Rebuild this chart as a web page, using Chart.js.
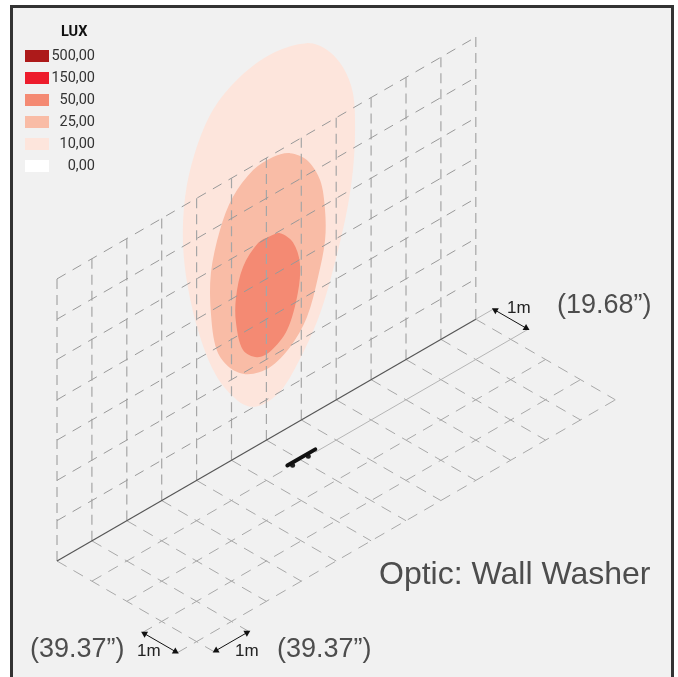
<!DOCTYPE html>
<html>
<head>
<meta charset="utf-8">
<title>Optic: Wall Washer</title>
<script src="https://cdn.jsdelivr.net/npm/chart.js@4"></script>
<style>
  html, body { margin: 0; padding: 0; background: #fff; }
  #page { position: relative; width: 678px; height: 677px; overflow: hidden; }
  #frame { position: absolute; left: 10px; top: 5px; width: 658px; height: 720px; border: 3px solid #333; background: #f1f1f1; }
  #chart { position: absolute; left: 0; top: 0; }
  .note { position: absolute; white-space: nowrap; font-family: "Liberation Sans", sans-serif; color: #4d4d4d; line-height: 1; }
  .swatch { position: absolute; left: 25px; width: 24px; height: 12px; }
  .lux { position: absolute; right: 583px; font: 14.5px Roboto, sans-serif; color: #333; line-height: 1; }
  #luxTitle { position: absolute; left: 61px; top: 25px; font: bold 14.5px Roboto, sans-serif; color: #111; line-height: 1; }
</style>
</head>
<body>
<div id="page">
  <div id="frame"></div>
  <canvas id="chart" width="678" height="677"></canvas>
  <div id="luxTitle">LUX</div>
  <div id="legend"></div>
  <div class="note" style="left:379px;top:557px;font-size:32px">Optic: Wall Washer</div>
  <div class="note" style="left:557px;top:291px;font-size:27px">(19.68”)</div>
  <div class="note" style="left:30px;top:635px;font-size:27px">(39.37”)</div>
  <div class="note" style="left:277px;top:635px;font-size:27px">(39.37”)</div>
  <div class="note" style="left:507px;top:299px;font-size:17px;color:#222">1m</div>
  <div class="note" style="left:137px;top:642px;font-size:17px;color:#222">1m</div>
  <div class="note" style="left:235px;top:642px;font-size:17px;color:#222">1m</div>
</div>
<script>
const LUX_LABELS = ["500,00", "150,00", "50,00", "25,00", "10,00", "0,00"];
const LUX_COLORS = ["#ad1a1a", "#ed1c2c", "#f48a73", "#f9bca6", "#fde5dc", "#ffffff"];

// grid lines, in metres-ish cells
const WALL_COLUMNS = [0, 1, 2, 3, 4, 5, 6, 7, 8, 9, 10, 11, 12];
const WALL_ROWS = [1, 2, 3, 4, 5, 6, 7];
const FLOOR_ROWS = [2, 3, 4];

// lux contours on the wall: along the wall (u) and up the wall (v)
const OUTER_U = [7.16, 7.74, 8.19, 8.48, 8.54, 8.48, 8.31, 7.96, 7.54, 7.05, 6.48, 6.02, 5.59, 5.16, 4.58, 4.10, 3.75, 3.61, 3.67, 3.95, 4.47, 5.24, 6.19];
const OUTER_V = [9.27, 8.81, 8.16, 7.37, 6.42, 5.46, 4.55, 3.41, 2.38, 1.64, 1.05, 0.93, 1.03, 1.41, 2.28, 3.51, 4.92, 6.08, 7.20, 8.15, 8.96, 9.39, 9.51];
const MIDDLE_U = [6.68, 7.16, 7.54, 7.68, 7.68, 7.48, 7.16, 6.68, 6.10, 5.47, 4.96, 4.58, 4.41, 4.41, 4.67, 5.04, 5.62, 6.19];
const MIDDLE_V = [6.78, 6.37, 5.68, 4.87, 4.12, 3.31, 2.47, 1.97, 1.76, 1.90, 2.31, 2.94, 3.95, 4.94, 5.88, 6.51, 6.89, 6.93];
const INNER_U = [6.39, 6.76, 6.96, 6.90, 6.59, 6.10, 5.73, 5.33, 5.13, 5.13, 5.33, 5.76, 6.10];
const INNER_V = [4.94, 4.53, 3.91, 3.20, 2.43, 2.14, 2.19, 2.57, 3.34, 3.98, 4.63, 5.01, 5.01];

const FLOOR_END = 4.5;
const TICK = 0.55;
const FIXTURE_U = [5.6, 6.4];

const WALL_V_STYLE = { borderColor: "#a6a6a6", borderWidth: 1.2, borderDash: [10, 6] };
const WALL_H_STYLE = { borderColor: "#999999", borderWidth: 1, borderDash: [10, 8] };
const FLOOR_STYLE = { borderColor: "#a8a8a8", borderWidth: 1, borderDash: [11, 8] };

// isometric projection onto the chart's x/y scales
const wallPt = (u, v) => ({ x: u, y: v + u / 2 });
const floorPt = (u, d) => ({ x: u + d, y: (u - d) / 2 });

function line(points, style) {
  return { type: "scatter", data: points, showLine: true, pointRadius: 0, fill: false, tension: 0, ...style };
}

function contour(us, vs, color) {
  const pts = us.map((u, i) => wallPt(u, vs[i]));
  const n = pts.length;
  return {
    type: "scatter",
    // overlap the ends by a point so the curve closes without a corner
    data: [pts[n - 1], ...pts, pts[0], pts[1]],
    showLine: true,
    pointRadius: 0,
    borderWidth: 0,
    borderColor: color,
    backgroundColor: color,
    fill: "shape",
    tension: 0.33
  };
}

// clockwise from up, measured on screen
function angleOf(from, to) {
  const dx = (to.x - from.x) * 34.9;
  const dy = (to.y - from.y) * 40.3;
  return Math.atan2(dx, dy) * 180 / Math.PI;
}

function arrow(from, to) {
  return {
    type: "scatter",
    data: [from, to],
    showLine: true,
    borderColor: "#111",
    borderWidth: 1,
    backgroundColor: "#111",
    pointStyle: "triangle",
    pointRadius: 4,
    pointBorderWidth: 0,
    pointRotation: [angleOf(to, from), angleOf(from, to)]
  };
}

const datasets = [];

// fixture
const fixtureLift = 0.07;
datasets.push(line(FIXTURE_U.map(u => {
  const p = floorPt(u, 1);
  return { x: p.x, y: p.y + fixtureLift };
}), { borderColor: "#111", borderWidth: 4, borderCapStyle: "round" }));
datasets.push({
  type: "scatter",
  data: [floorPt(5.75, 1), floorPt(6.2, 1)],
  pointRadius: 2.5,
  backgroundColor: "#222",
  borderWidth: 0
});

// dimension arrows
datasets.push(arrow(floorPt(-TICK, 3.06), floorPt(-TICK, 3.94)));
datasets.push(arrow(floorPt(0.06, FLOOR_END), floorPt(0.94, FLOOR_END)));
datasets.push(arrow(floorPt(12.5, 0.06), floorPt(12.5, 0.94)));

// wall base and the solid part of the first floor row
datasets.push(line([wallPt(0, 0), wallPt(12, 0)], { borderColor: "#555", borderWidth: 1.2 }));
datasets.push(line([floorPt(12, 0), floorPt(12.5, 0)], { borderColor: "#b5b5b5", borderWidth: 1 }));
datasets.push(line([floorPt(FIXTURE_U[1], 1), floorPt(12.5, 1)], { borderColor: "#b5b5b5", borderWidth: 1 }));
datasets.push(line([floorPt(0, 1), floorPt(FIXTURE_U[0], 1)], FLOOR_STYLE));

// floor
FLOOR_ROWS.forEach(d => {
  const start = d >= 3 ? -TICK : 0;
  datasets.push(line([floorPt(start, d), floorPt(12, d)], FLOOR_STYLE));
});
WALL_COLUMNS.forEach(u => {
  const end = u <= 1 ? FLOOR_END : 4;
  datasets.push(line([floorPt(u, 0), floorPt(u, end)], FLOOR_STYLE));
});

// wall
WALL_ROWS.forEach(v => {
  datasets.push(line([wallPt(0, v), wallPt(12, v)], WALL_H_STYLE));
});
WALL_COLUMNS.forEach(u => {
  datasets.push(line([wallPt(u, 7), wallPt(u, 0)], WALL_V_STYLE));
});

// contours sit under everything else
datasets.push(contour(INNER_U, INNER_V, LUX_COLORS[2]));
datasets.push(contour(MIDDLE_U, MIDDLE_V, LUX_COLORS[3]));
datasets.push(contour(OUTER_U, OUTER_V, LUX_COLORS[4]));

new Chart(document.getElementById("chart").getContext("2d"), {
  type: "scatter",
  data: { datasets },
  options: {
    responsive: false,
    animation: false,
    events: [],
    layout: { padding: 0, autoPadding: false },
    plugins: { legend: { display: false }, tooltip: { enabled: false } },
    scales: {
      x: { type: "linear", display: false, min: -57 / 34.9, max: (678 - 57) / 34.9 },
      y: { type: "linear", display: false, min: (561 - 677) / 40.3, max: 561 / 40.3 }
    }
  }
});

// ---- LUX legend ----
const legend = document.getElementById("legend");
LUX_LABELS.forEach((label, i) => {
  const swatch = document.createElement("div");
  swatch.className = "swatch";
  swatch.style.top = (49.5 + i * 22) + "px";
  swatch.style.background = LUX_COLORS[i];
  legend.appendChild(swatch);

  const text = document.createElement("div");
  text.className = "lux";
  text.style.top = (49 + i * 22) + "px";
  text.textContent = label;
  legend.appendChild(text);
});
</script>
</body>
</html>
